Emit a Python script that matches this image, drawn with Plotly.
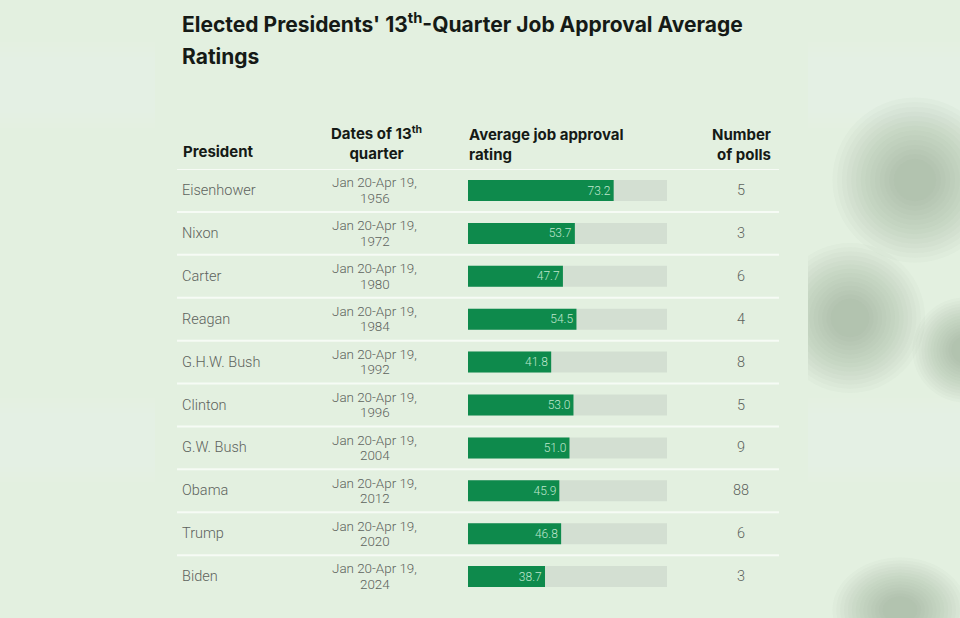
import plotly.graph_objects as go

presidents = ["Eisenhower", "Nixon", "Carter", "Reagan", "G.H.W. Bush",
              "Clinton", "G.W. Bush", "Obama", "Trump", "Biden"]
date_line1 = ["Jan 20-Apr 19,"] * 10
years = ["1956", "1972", "1980", "1984", "1992", "1996", "2004", "2012", "2020", "2024"]
approval = [73.2, 53.7, 47.7, 54.5, 41.8, 53.0, 51.0, 45.9, 46.8, 38.7]
num_polls = [5, 3, 6, 4, 8, 5, 9, 88, 6, 3]
scale_max = [100] * 10

W, H = 960, 618
BG = "#e3f0e0"
GREEN = "#0e8a4c"
TRACK = "#d3dfd2"
TXT = "#5d635d"
DARK = "#151a16"

def px(x):
    return x / W

def py(y):
    return 1 - y / H

rows = list(range(len(presidents)))
row0, step = 190.5, 42.9
top = row0 - step / 2
bottom = row0 + step * (len(rows) - 0.5)

fig = go.Figure()
fig.add_trace(go.Bar(
    x=scale_max, y=rows, orientation="h", marker=dict(color=TRACK, line=dict(width=0)),
    width=0.49, hoverinfo="skip", showlegend=False))
fig.add_trace(go.Bar(
    x=approval, y=rows, orientation="h", marker=dict(color=GREEN, line=dict(width=0)),
    width=0.49, text=[f"{v:.1f}" for v in approval], textposition="inside",
    insidetextanchor="end", textfont=dict(family="Roboto", size=12, color="#bfe6cc", weight=300),
    textangle=0, cliponaxis=False, showlegend=False))

fig.update_layout(
    width=W, height=H, margin=dict(l=0, r=0, t=0, b=0),
    paper_bgcolor=BG, plot_bgcolor="rgba(0,0,0,0)", barmode="overlay",
    uniformtext=dict(minsize=12, mode="show"),
    xaxis=dict(domain=[px(468), px(667)], range=[0, 100], visible=False, fixedrange=True),
    yaxis=dict(domain=[py(bottom), py(top)], range=[len(rows) - 0.5, -0.5],
               visible=False, fixedrange=True),
)

shapes = []
# soft lighter bands of the blurred backdrop
for (y0, y1) in [(62, 108), (418, 462)]:
    for k in range(5):
        shapes.append(dict(type="rect", xref="paper", yref="paper", x0=0, x1=1,
                           y0=py(y1 + 5 * k), y1=py(y0 - 5 * k),
                           fillcolor="rgba(255,255,255,0.035)", line=dict(width=0), layer="below"))
# blurred blobs on the right
for (cx, cy, rx, ry) in [(915, 180, 55, 55), (850, 318, 50, 50), (965, 350, 35, 35),
                         (900, 610, 45, 35)]:
    n = 14
    for k in range(n):
        f = 1.5 - k * 1.2 / n
        shapes.append(dict(type="circle", xref="paper", yref="paper",
                           x0=px(cx - rx * f), x1=px(cx + rx * f),
                           y0=py(cy + ry * f), y1=py(cy - ry * f),
                           fillcolor="rgba(125,132,125,0.035)", line=dict(width=0), layer="below"))
# main panel
shapes.append(dict(type="rect", xref="paper", yref="paper", x0=px(155), x1=px(808), y0=0, y1=1,
                   fillcolor=BG, line=dict(width=0), layer="below"))
# separators
for i in range(-1, len(rows) - 1):
    shapes.append(dict(type="line", xref="paper", yref="y", x0=px(177), x1=px(779),
                       y0=i + 0.5, y1=i + 0.5, line=dict(color="#f6fbf5", width=2), layer="below"))
fig.update_layout(shapes=shapes)

ann = []
def a(text, x, y, xanchor="left", size=14, color=TXT, family="Roboto", weight=None,
      yref="paper", yshift=0, align="left"):
    f = dict(family=family, size=size, color=color)
    if weight:
        f["weight"] = weight
    ann.append(dict(text=text, x=x, y=y, xref="paper", yref=yref, xanchor=xanchor,
                    yanchor="middle", showarrow=False, font=f, yshift=yshift, align=align))

# title
a("Elected Presidents' 13<sup>th</sup>-Quarter Job Approval Average", px(180), py(23),
  size=21, color=DARK, family="Inter", weight=700)
a("Ratings", px(180), py(56), size=21, color=DARK, family="Inter", weight=700)

# headers
hd = dict(size=15, color=DARK, family="Inter", weight=700)
a("President", px(181), py(152), **hd)
a("Dates of 13<sup>th</sup><br>quarter", px(376), py(143), xanchor="center", align="center", **hd)
a("Average job approval<br>rating", px(467), py(144), **hd)
a("Number<br>of polls", px(773), py(144), xanchor="right", align="right", **hd)

for i in rows:
    a(presidents[i], px(180), i, yref="y", size=14.5, weight=300)
    a(date_line1[i], px(374), i, xanchor="center", yref="y", size=13.4, yshift=7.7, weight=300)
    a(years[i], px(375), i, xanchor="center", yref="y", size=13.4, yshift=-7.7, weight=300)
    a(str(num_polls[i]), px(741), i, xanchor="center", yref="y", size=14.5, weight=300)

fig.update_layout(annotations=ann)
fig.write_html("out.html", config={"displayModeBar": False},
               post_script="document.body.style.margin='0';document.body.style.padding='0';")
